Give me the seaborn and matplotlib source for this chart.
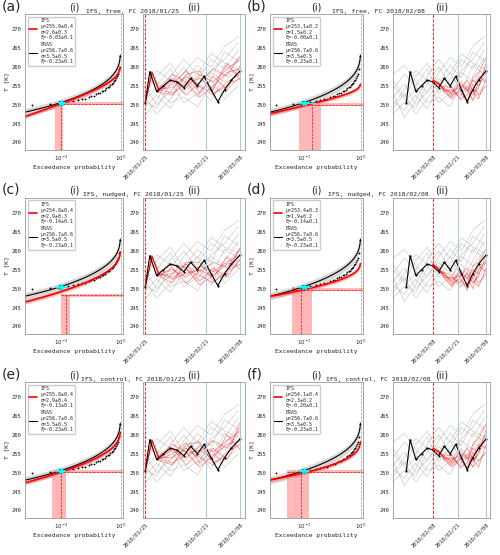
import numpy as np
import pandas as pd
import matplotlib
matplotlib.use("Agg")
import matplotlib.pyplot as plt
import matplotlib.dates as mdates
import seaborn as sns

sns.set_style("white")
plt.rcParams['font.family'] = ['DejaVu Sans Mono', 'DejaVu Sans']
plt.rcParams['font.size'] = 4.5

# --- GEV parameters (mu, sigma, xi) with uncertainties, per panel ---
panel_tags = ['(a)', '(b)', '(c)', '(d)', '(e)', '(f)']
panel_exp = ['free', 'free', 'nudged', 'nudged', 'control', 'control']
panel_fc = ['2018/01/25', '2018/02/08'] * 3
ifs_mu = [255.9, 253.1, 254.8, 253.4, 255.8, 254.1]
ifs_mu_err = [0.4, 0.2, 0.4, 0.3, 0.4, 0.4]
ifs_sigma = [2.6, 1.5, 2.9, 1.9, 2.9, 2.3]
ifs_sigma_err = [0.3, 0.2, 0.3, 0.2, 0.4, 0.2]
ifs_xi = [-0.03, -0.00, -0.14, -0.14, -0.13, -0.20]
era_mu, era_sigma, era_xi = 256.7, 3.5, -0.23

# event probability in IFS (low, central, high) and event temperature band
ev_p_lo = [0.08, 0.08, 0.10, 0.06, 0.07, 0.05]
ev_p_mid = [0.10, 0.14, 0.12, 0.09, 0.10, 0.09]
ev_p_hi = [0.11, 0.20, 0.14, 0.14, 0.12, 0.12]
ev_T = [250.3, 250.0, 248.3, 249.7, 250.3, 250.3]
era_ev_p = [0.10, 0.10, 0.10, 0.10, 0.10, 0.10]
era_ev_p_lo = [0.09, 0.08, 0.08, 0.08, 0.08, 0.08]
era_ev_p_hi = [0.12, 0.16, 0.13, 0.13, 0.12, 0.12]

# ERA5 annual minima (sorted) for empirical points
era_minima = [249.9, 250.2, 250.5, 250.6, 251.0, 251.2, 251.5, 251.6, 251.9, 252.2,
              252.4, 252.7, 253.0, 253.2, 253.5, 253.7, 254.0, 254.3, 254.6, 254.8,
              255.1, 255.4, 255.8, 256.2, 256.6, 257.0, 257.5, 258.2, 259.5, 262.8]

# --- time series ---
obs_dates = ['2018-01-25', '2018-01-27', '2018-01-30', '2018-02-02', '2018-02-05',
             '2018-02-08', '2018-02-11', '2018-02-14', '2018-02-17', '2018-02-20',
             '2018-02-23', '2018-02-26', '2018-03-01', '2018-03-04', '2018-03-08']
obs_T = [250.5, 258.7, 253.5, 255.0, 256.5, 256.0, 254.5, 257.0, 255.0, 257.5,
         254.0, 250.8, 254.0, 256.5, 259.0]

gray_dates = ['2018-01-18', '2018-01-24', '2018-01-30', '2018-02-05', '2018-02-11',
              '2018-02-17', '2018-02-23', '2018-03-01', '2018-03-07']
gray_1 = [252.0, 255.5, 250.0, 253.5, 257.0, 254.0, 259.0, 262.0, 266.5]
gray_2 = [256.5, 252.0, 257.5, 261.0, 255.5, 260.5, 257.0, 264.0, 261.5]
gray_3 = [249.0, 253.0, 247.5, 251.5, 256.0, 252.0, 258.5, 256.0, 260.0]
gray_4 = [254.0, 258.0, 255.0, 259.5, 253.0, 256.5, 262.0, 259.5, 264.5]
gray_5 = [251.0, 248.5, 252.5, 249.0, 254.5, 258.5, 253.5, 260.5, 258.0]
gray_6 = [258.0, 260.5, 256.0, 253.0, 258.5, 262.5, 260.0, 265.5, 268.0]
gray_7 = [247.5, 250.5, 254.5, 250.5, 252.0, 249.5, 255.0, 253.0, 257.0]
gray_8 = [255.0, 251.5, 249.0, 255.5, 260.0, 255.5, 251.0, 257.5, 262.5]
gray_9 = [250.0, 254.0, 259.0, 256.5, 250.5, 253.0, 256.5, 251.5, 255.0]
gray_10 = [253.0, 246.5, 251.0, 257.5, 262.0, 258.0, 263.5, 261.0, 259.5]

red_dates_0125 = ['2018-01-25', '2018-01-28', '2018-01-31', '2018-02-06', '2018-02-12',
                  '2018-02-18', '2018-02-24', '2018-03-02', '2018-03-08']
red_dates_0208 = ['2018-02-08', '2018-02-11', '2018-02-14', '2018-02-18', '2018-02-22',
                  '2018-02-26', '2018-03-01', '2018-03-04', '2018-03-08']
red_free_0125 = [[250.5, 258.5, 253.8, 257.0, 254.5, 258.0, 256.0, 259.5, 262.0],
                 [250.5, 258.3, 254.2, 254.5, 257.5, 255.0, 252.5, 256.0, 258.0],
                 [250.5, 258.6, 253.5, 255.5, 259.0, 253.0, 257.5, 254.0, 260.5],
                 [250.5, 258.4, 254.0, 253.0, 255.5, 257.0, 254.0, 261.0, 256.5],
                 [250.5, 258.7, 253.6, 256.5, 252.5, 256.0, 259.5, 257.5, 263.0],
                 [250.5, 258.2, 254.4, 258.0, 256.0, 252.0, 255.0, 258.5, 259.5],
                 [250.5, 258.8, 253.3, 252.5, 258.0, 259.0, 253.0, 255.0, 257.0]]
red_free_0208 = [[256.5, 255.5, 254.0, 253.0, 255.5, 253.5, 256.5, 255.0, 258.5],
                 [256.5, 255.2, 254.5, 252.5, 253.5, 251.0, 254.0, 257.5, 256.0],
                 [256.5, 255.8, 253.5, 254.0, 252.0, 255.0, 252.5, 254.5, 261.0],
                 [256.5, 255.4, 254.2, 253.5, 254.5, 250.5, 255.5, 252.5, 255.0],
                 [256.5, 255.6, 253.8, 252.0, 256.0, 254.0, 251.0, 256.5, 259.5],
                 [256.5, 255.3, 254.8, 254.5, 251.5, 252.5, 257.0, 258.5, 262.5],
                 [256.5, 255.7, 253.3, 251.5, 254.0, 256.5, 253.5, 251.5, 257.0]]
red_nudged_0125 = [[250.5, 258.6, 253.7, 255.0, 253.0, 256.0, 254.5, 257.0, 259.0],
                   [250.5, 258.4, 254.0, 253.0, 255.0, 253.5, 251.5, 255.0, 256.5],
                   [250.5, 258.7, 253.5, 254.0, 256.5, 252.0, 255.5, 253.0, 258.0],
                   [250.5, 258.5, 253.9, 252.5, 254.0, 255.0, 253.0, 258.5, 255.0],
                   [250.5, 258.3, 253.6, 255.5, 251.5, 254.5, 257.0, 255.5, 260.5],
                   [250.5, 258.2, 254.3, 256.5, 255.5, 251.0, 253.5, 256.5, 257.5],
                   [250.5, 258.8, 253.4, 251.5, 257.0, 257.0, 252.0, 254.0, 261.0]]
red_nudged_0208 = [[256.5, 255.0, 253.5, 252.0, 254.5, 252.5, 255.0, 254.0, 257.0],
                   [256.5, 254.8, 254.0, 251.5, 252.5, 250.5, 253.0, 256.0, 254.5],
                   [256.5, 255.3, 253.0, 253.0, 251.5, 254.0, 251.5, 253.5, 259.0],
                   [256.5, 255.1, 253.8, 252.5, 253.5, 249.5, 254.0, 251.5, 254.0],
                   [256.5, 255.2, 253.2, 251.0, 255.0, 253.0, 250.0, 255.0, 257.5],
                   [256.5, 254.9, 254.3, 253.5, 250.5, 251.5, 256.0, 257.0, 260.5],
                   [256.5, 255.4, 252.8, 250.5, 253.0, 255.5, 252.5, 250.5, 255.5]]
red_control_0125 = [[250.5, 258.5, 253.8, 256.0, 254.0, 257.0, 255.5, 258.5, 261.0],
                    [250.5, 258.3, 254.1, 254.0, 256.5, 254.0, 252.0, 255.5, 257.5],
                    [250.5, 258.6, 253.5, 255.0, 258.0, 252.5, 256.5, 253.5, 259.5],
                    [250.5, 258.4, 254.0, 252.5, 255.0, 256.0, 253.5, 260.0, 256.0],
                    [250.5, 258.7, 253.6, 256.5, 252.0, 255.5, 258.5, 256.5, 262.0],
                    [250.5, 258.2, 254.4, 257.5, 255.5, 251.5, 254.5, 257.5, 258.5],
                    [250.5, 258.8, 253.3, 252.0, 257.5, 258.0, 252.5, 254.5, 263.5]]
red_control_0208 = [[256.5, 255.5, 254.0, 253.0, 255.0, 253.5, 256.5, 255.5, 259.0],
                    [256.5, 255.2, 254.5, 252.5, 253.5, 251.5, 254.5, 257.5, 256.5],
                    [256.5, 255.8, 253.5, 254.0, 252.0, 255.0, 253.0, 255.0, 261.5],
                    [256.5, 255.4, 254.2, 253.5, 254.5, 251.0, 255.5, 253.0, 255.5],
                    [256.5, 255.6, 253.8, 252.0, 256.0, 254.0, 251.5, 257.0, 260.0],
                    [256.5, 255.3, 254.7, 254.5, 251.5, 252.5, 257.5, 259.0, 263.0],
                    [256.5, 255.7, 253.3, 251.5, 253.5, 256.5, 253.5, 251.5, 257.5]]

gray_members = [gray_1, gray_2, gray_3, gray_4, gray_5, gray_6, gray_7, gray_8, gray_9, gray_10]
red_sets = [red_free_0125, red_free_0208, red_nudged_0125,
            red_nudged_0208, red_control_0125, red_control_0208]
xlim_start = ['2018-01-24', '2018-01-18'] * 3
fc_start = ['2018-01-25', '2018-02-08'] * 3


def return_level(p, mu, sigma, xi):
    # GEV for minima (fit on -T), exceedance probability p
    y = -np.log(1 - p)
    if abs(xi) < 1e-6:
        return mu + sigma * np.log(y)
    return mu - sigma / xi * (y ** (-xi) - 1)


def long_df(dates, members):
    rows = []
    for k, m in enumerate(members):
        for d, v in zip(dates, m):
            rows.append((k, pd.Timestamp(d), v))
    return pd.DataFrame(rows, columns=['member', 'date', 'T'])


gray_df = long_df(gray_dates, gray_members)
obs_df = pd.DataFrame({'date': pd.to_datetime(obs_dates), 'T': obs_T})

fig = plt.figure(figsize=(5.0, 5.55), dpi=100)
W, H = 500.0, 555.0
p = np.logspace(np.log10(0.02), np.log10(0.99), 200)
n = len(era_minima)
era_p = np.arange(1, n + 1) / (n + 1.0)

for i in range(6):
    row, col = i // 2, i % 2
    top = 14 + 184 * row
    bot = 150 + 184 * row
    if col == 0:
        x1, x2, x3, x4 = 25, 123, 143, 245
    else:
        x1, x2, x3, x4 = 270, 363, 393, 490
    ax1 = fig.add_axes([x1 / W, 1 - bot / H, (x2 - x1) / W, (bot - top) / H])
    ax2 = fig.add_axes([x3 / W, 1 - bot / H, (x4 - x3) / W, (bot - top) / H])

    # ---- (i) return level plot ----
    Te = return_level(p, era_mu, era_sigma, era_xi)
    ax1.fill_between(p, Te - 1.0, Te + 1.0, color='0.75', alpha=0.6, lw=0)
    sns.lineplot(x=p, y=Te, color='k', lw=0.8, ax=ax1, label='ERA5\nμ=256.7±0.6\nσ=3.5±0.5\nξ=-0.23±0.1')
    Ti = return_level(p, ifs_mu[i], ifs_sigma[i], ifs_xi[i])
    ax1.fill_between(p, Ti - 0.5, Ti + 0.5, color='#ff8080', alpha=0.6, lw=0)
    lab = f'IFS\nμ={ifs_mu[i]:.1f}±{ifs_mu_err[i]}\nσ={ifs_sigma[i]:.1f}±{ifs_sigma_err[i]}\nξ={ifs_xi[i]:.2f}±0.1'
    sns.lineplot(x=p, y=Ti, color='red', lw=1.2, ax=ax1, label=lab)
    sns.scatterplot(x=era_p, y=era_minima, color='k', s=3, marker='+', linewidth=0.6, ax=ax1, legend=False)
    ax1.plot(era_p[2], era_minima[2], 'o', color='k', ms=2.5)
    # event bands
    ax1.axvspan(ev_p_lo[i], ev_p_hi[i], ymax=(ev_T[i] - 238) / 36, color='#ff9999', alpha=0.7, lw=0)
    ax1.fill_between([ev_p_lo[i], 1.1], ev_T[i] - 0.4, ev_T[i] + 0.4, color='#ff9999', alpha=0.7, lw=0)
    ax1.plot([ev_p_mid[i], ev_p_mid[i]], [238, ev_T[i]], color='red', ls='--', lw=0.5)
    ax1.plot([ev_p_lo[i], 1.1], [ev_T[i], ev_T[i]], color='red', ls='--', lw=0.5)
    ax1.errorbar(era_ev_p[i], 250.5,
                 xerr=[[era_ev_p[i] - era_ev_p_lo[i]], [era_ev_p_hi[i] - era_ev_p[i]]],
                 fmt='*', color='cyan', ms=4, lw=0.9, capsize=0)
    ax1.axvline(1.0, color='0.6', ls='--', lw=0.5)
    ax1.set_xscale('log')
    ax1.set_xlim(0.025, 1.1)
    ax1.set_ylim(238, 274)
    ax1.set_yticks(range(240, 271, 5))
    ax1.set_xticks([0.1, 1.0])
    ax1.set_xticklabels([r'$10^{-1}$', r'$10^{0}$'])
    ax1.minorticks_off()
    ax1.set_xlabel('Exceedance probability', fontsize=4.5, labelpad=1)
    ax1.set_ylabel('T [K]', fontsize=4.5, labelpad=1)
    handles, labels = ax1.get_legend_handles_labels()
    ax1.legend(handles[::-1], labels[::-1], loc='upper left', fontsize=3.6,
               handlelength=1.5, labelspacing=0.3, borderpad=0.3, framealpha=1)

    # ---- (ii) time series ----
    sns.lineplot(data=gray_df, x='date', y='T', units='member', estimator=None,
                 color='0.6', lw=0.4, alpha=0.6, ax=ax2)
    red_dates = red_dates_0125 if col == 0 else red_dates_0208
    red_df = long_df(red_dates, red_sets[i])
    sns.lineplot(data=red_df, x='date', y='T', units='member', estimator=None,
                 color='red', lw=0.5, alpha=0.5, ax=ax2)
    sns.lineplot(data=obs_df, x='date', y='T', color='k', lw=0.8, ax=ax2)
    sns.scatterplot(data=obs_df, x='date', y='T', color='k', s=3, ax=ax2, legend=False)
    ax2.axvline(pd.Timestamp(fc_start[i]), color='red', ls='--', lw=0.6)
    ax2.axvline(pd.Timestamp('2018-02-21'), color='#9ecae1', lw=0.7)
    ax2.axvline(pd.Timestamp('2018-03-08'), color='#9ecae1', lw=0.7)
    ax2.set_xlim(pd.Timestamp(xlim_start[i]), pd.Timestamp('2018-03-10'))
    ax2.set_ylim(238, 274)
    ax2.set_yticks(range(240, 271, 5))
    ticks = pd.to_datetime([fc_start[i], '2018-02-21', '2018-03-08'])
    ax2.set_xticks(ticks)
    ax2.xaxis.set_major_formatter(mdates.DateFormatter('%Y/%m/%d'))
    for t in ax2.get_xticklabels():
        t.set_rotation(45)
        t.set_ha('right')
        t.set_rotation_mode('anchor')
    ax2.set_xlabel('')
    ax2.set_ylabel('')

    for ax in (ax1, ax2):
        ax.tick_params(labelsize=4, length=2, pad=1)
        for s in ax.spines.values():
            s.set_color('0.6')
            s.set_linewidth(0.6)

    # annotations
    fig.text((x1 - 23) / W, 1 - (top - 1) / H, panel_tags[i], fontsize=10,
             family='DejaVu Sans', va='bottom')
    fig.text((x1 + x2) / 2 / W, 1 - (top - 2) / H, '(i)', fontsize=7,
             family='DejaVu Sans', ha='center', va='bottom')
    fig.text((x3 + x4) / 2 / W, 1 - (top - 2) / H, '(ii)', fontsize=7,
             family='DejaVu Sans', ha='center', va='bottom')
    fig.text((x2 + x3) / 2 / W, 1 - (top - 0.5) / H,
             f'IFS, {panel_exp[i]}, FC {panel_fc[i]}', fontsize=4.6,
             ha='center', va='bottom')

fig.savefig('out.png', dpi=100)
